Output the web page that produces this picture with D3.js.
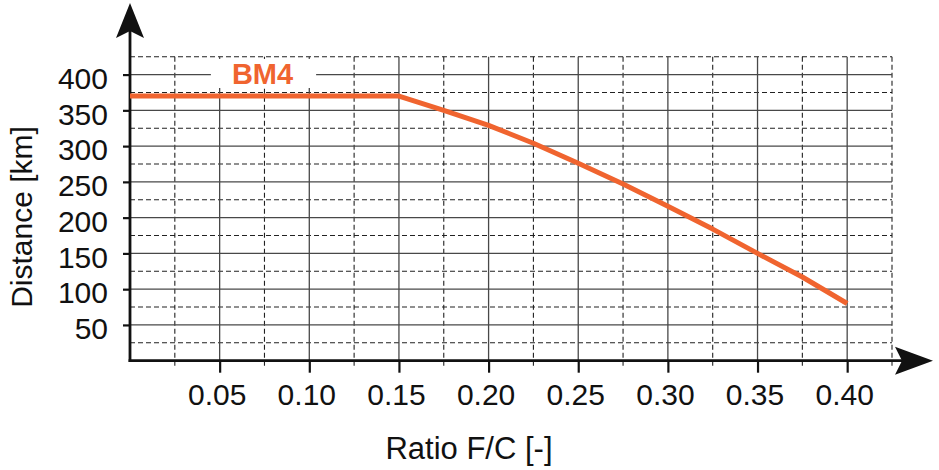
<!DOCTYPE html>
<meta charset="utf-8">
<style>
body { margin: 0; background: #fff; }
svg text { font-family: "Liberation Sans", Arial, sans-serif; fill: #111; }
.grid-major { stroke: #484848; stroke-width: 1.3px; }
.grid-minor { stroke: #222; stroke-width: 1.1px; stroke-dasharray: 5,3; }
.axis path { display: none; }
.axis line { stroke: #111; stroke-width: 2.2px; }
</style>
<body>
<svg id="chart" width="939" height="470"></svg>
<script src="https://d3js.org/d3.v7.min.js"></script>
<script>

// data
var ratio    = [0, 0.15, 0.175, 0.20, 0.225, 0.25, 0.275, 0.30, 0.325, 0.35, 0.375, 0.40];
var distance = [370, 370, 350, 329, 304, 276, 247, 216, 184, 150, 117, 80];
var seriesName = "BM4";

var xMajor = [0.05, 0.10, 0.15, 0.20, 0.25, 0.30, 0.35, 0.40];
var xMinor = [0.025, 0.075, 0.125, 0.175, 0.225, 0.275, 0.325, 0.375, 0.425];
var yMajor = [50, 100, 150, 200, 250, 300, 350, 400];
var yMinor = [25, 75, 125, 175, 225, 275, 325, 375, 425];

var xTitle = "Ratio F/C [-]";
var yTitle = "Distance [km]";

var orange = "#f0642f";

var svg = d3.select("#chart");

var x = d3.scaleLinear().domain([0, 0.425]).range([130, 892]);
var y = d3.scaleLinear().domain([0, 425]).range([360.7, 56.7]);

var x0 = x(0), y0 = y(0);

// grid
var grid = svg.append("g");
grid.selectAll(".hmin").data(yMinor).enter().append("line")
    .attr("class", "grid-minor")
    .attr("x1", x0).attr("x2", x(0.425))
    .attr("y1", d => y(d)).attr("y2", d => y(d));
grid.selectAll(".vmin").data(xMinor).enter().append("line")
    .attr("class", "grid-minor")
    .attr("x1", d => x(d)).attr("x2", d => x(d))
    .attr("y1", y(425)).attr("y2", y0 + 6);
grid.selectAll(".hmaj").data(yMajor).enter().append("line")
    .attr("class", "grid-major")
    .attr("x1", x0).attr("x2", x(0.425))
    .attr("y1", d => y(d)).attr("y2", d => y(d));
grid.selectAll(".vmaj").data(xMajor).enter().append("line")
    .attr("class", "grid-major")
    .attr("x1", d => x(d)).attr("x2", d => x(d))
    .attr("y1", y(425)).attr("y2", y0);

// axes with ticks and labels
var xAxis = d3.axisBottom(x).tickValues(xMajor).tickSize(12).tickPadding(11)
    .tickFormat(d3.format(".2f"));
var yAxis = d3.axisLeft(y).tickValues(yMajor).tickSize(7).tickPadding(15)
    .tickFormat(d3.format("d"));

var gx = svg.append("g").attr("class", "axis")
    .attr("transform", "translate(0," + y0 + ")").call(xAxis);
gx.attr("font-size", null).attr("font-family", null);
gx.selectAll("text").style("font-size", "30px").attr("dx", "-3");

var gy = svg.append("g").attr("class", "axis")
    .attr("transform", "translate(" + x0 + ",0)").call(yAxis);
gy.attr("font-size", null).attr("font-family", null);
gy.selectAll("text").style("font-size", "30px").attr("dy", "0.46em");

// axis lines with arrows
svg.append("line").attr("x1", x0).attr("x2", x0).attr("y1", y0 + 1.3).attr("y2", 25)
    .attr("stroke", "#111").attr("stroke-width", 2.8);
svg.append("line").attr("x1", x0 - 1.4).attr("x2", 915).attr("y1", y0).attr("y2", y0)
    .attr("stroke", "#111").attr("stroke-width", 2.8);
svg.append("path")
    .attr("d", "M" + x0 + ",3 L" + (x0 + 14) + ",38 L" + x0 + ",31 L" + (x0 - 14) + ",38 Z")
    .attr("fill", "#111");
svg.append("path")
    .attr("d", "M933," + y0 + " L895," + (y0 - 14) + " L902," + y0 + " L895," + (y0 + 14) + " Z")
    .attr("fill", "#111");

// series
var pts = ratio.map((r, i) => [r, distance[i]]);
var line = d3.line().x(d => x(d[0])).y(d => y(d[1]));
svg.append("path").datum(pts)
    .attr("d", line)
    .attr("fill", "none")
    .attr("stroke", orange)
    .attr("stroke-width", 5)
    .attr("stroke-linejoin", "round");

// series label on a white box over the 400 line
var labelBox = svg.append("rect").attr("fill", "#fff");
var label = svg.append("text")
    .attr("x", x(0.0739))
    .attr("y", y(400) + 9)
    .attr("text-anchor", "middle")
    .style("font-size", "29px")
    .style("font-weight", "bold")
    .style("fill", orange)
    .text(seriesName);
var bb = label.node().getBBox();
labelBox.attr("x", bb.x - 21).attr("width", bb.width + 44)
    .attr("y", y(424) + 1.5).attr("height", 88 - y(424) - 1.5);

// axis titles
svg.append("text")
    .attr("x", 469).attr("y", 459)
    .attr("text-anchor", "middle")
    .style("font-size", "31px")
    .text(xTitle);
svg.append("text")
    .attr("transform", "translate(32,217) rotate(-90)")
    .attr("text-anchor", "middle")
    .style("font-size", "30px")
    .text(yTitle);

</script>
</body>
